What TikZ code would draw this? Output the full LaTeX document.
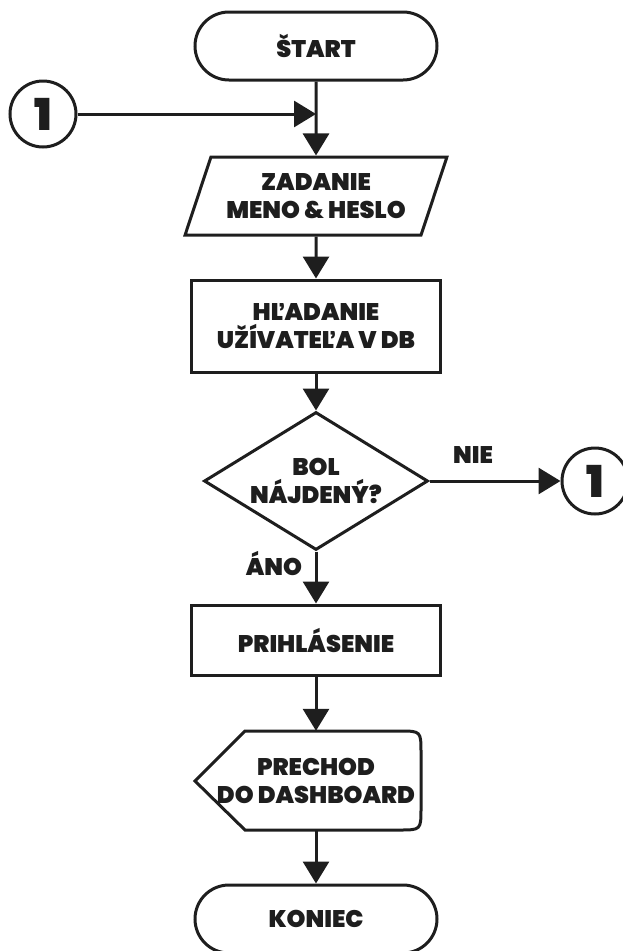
\documentclass[tikz,border=0pt]{standalone}
\usepackage{fontspec}
\setmainfont{Poppins}[BoldFont={* Black}]
\usetikzlibrary{arrows.meta,shapes.geometric,shapes.misc}
\definecolor{ink}{HTML}{1E1E1E}
\begin{document}
\begin{tikzpicture}[x=1pt,y=-1pt,
  every node/.style={font=\fontsize{24}{28}\selectfont\bfseries, text=ink, align=center},
  box/.style={draw=ink, line width=3pt, fill=white},
  term/.style={box, rounded rectangle, minimum width=242pt, minimum height=68pt, inner sep=0pt},
  io/.style={box, trapezium, trapezium left angle=64, trapezium right angle=116,
    trapezium stretches=true, minimum width=262pt, minimum height=78pt, inner sep=0pt},
  proc/.style={box, rectangle, minimum width=249pt, minimum height=92pt, inner sep=0pt},
  decision/.style={box, diamond, shape aspect=1.6, minimum width=224pt, minimum height=138pt, inner sep=0pt},
  conn/.style={box, circle, minimum size=66pt, inner sep=0pt, font=\fontsize{44}{44}\selectfont\bfseries},
  flow/.style={draw=ink, line width=3pt, -{Triangle[length=22pt,width=26pt]}},
  lbl/.style={inner sep=0pt}
]
\useasboundingbox (0,0) rectangle (622,951);

% main column
\node[term] (start) at (316,46) {ŠTART};
\node[io] (input) at (316,196) {ZADANIE\\MENO \& HESLO};
\node[proc] (search) at (316,326) {HĽADANIE\\UŽÍVATEĽA V DB};
\node[decision] (found) at (316,481) {BOL\\NÁJDENÝ?};
\node[proc, minimum height=70pt] (login) at (316,640) {PRIHLÁSENIE};
\node[minimum width=226pt, minimum height=100pt, inner sep=0pt] (disp) at (316,781) {PRECHOD\\DO DASHBOARD};
\node[term] (end) at (316,919) {KONIEC};

% display symbol outline
\draw[box, fill=none] (195,781) -- (245,731) -- (399,731)
  .. controls (421,731) .. (421,753) -- (421,808)
  .. controls (421,830) .. (399,830) -- (245,830) -- cycle;

% off-page connectors
\node[conn] (c1in) at (43,114) {1};
\node[conn] (c1out) at (595,481) {1};
\coordinate (join) at (316,114);

% connectors
\draw[flow] (start.south) -- (input.north);
\draw[flow] (c1in.east) -- (join);
\draw[flow] (input.south) -- (search.north);
\draw[flow] (search.south) -- (found.north);
\draw[flow] (found.east) -- (c1out.west);
\draw[flow] (found.south) -- (login.north);
\draw[flow] (login.south) -- (disp.north);
\draw[flow] (disp.south) -- (end.north);

% branch labels
\node[lbl] (nie) at (473,455) {NIE};
\node[lbl] (ano) at (274,563) {ÁNO};
\end{tikzpicture}
\end{document}
